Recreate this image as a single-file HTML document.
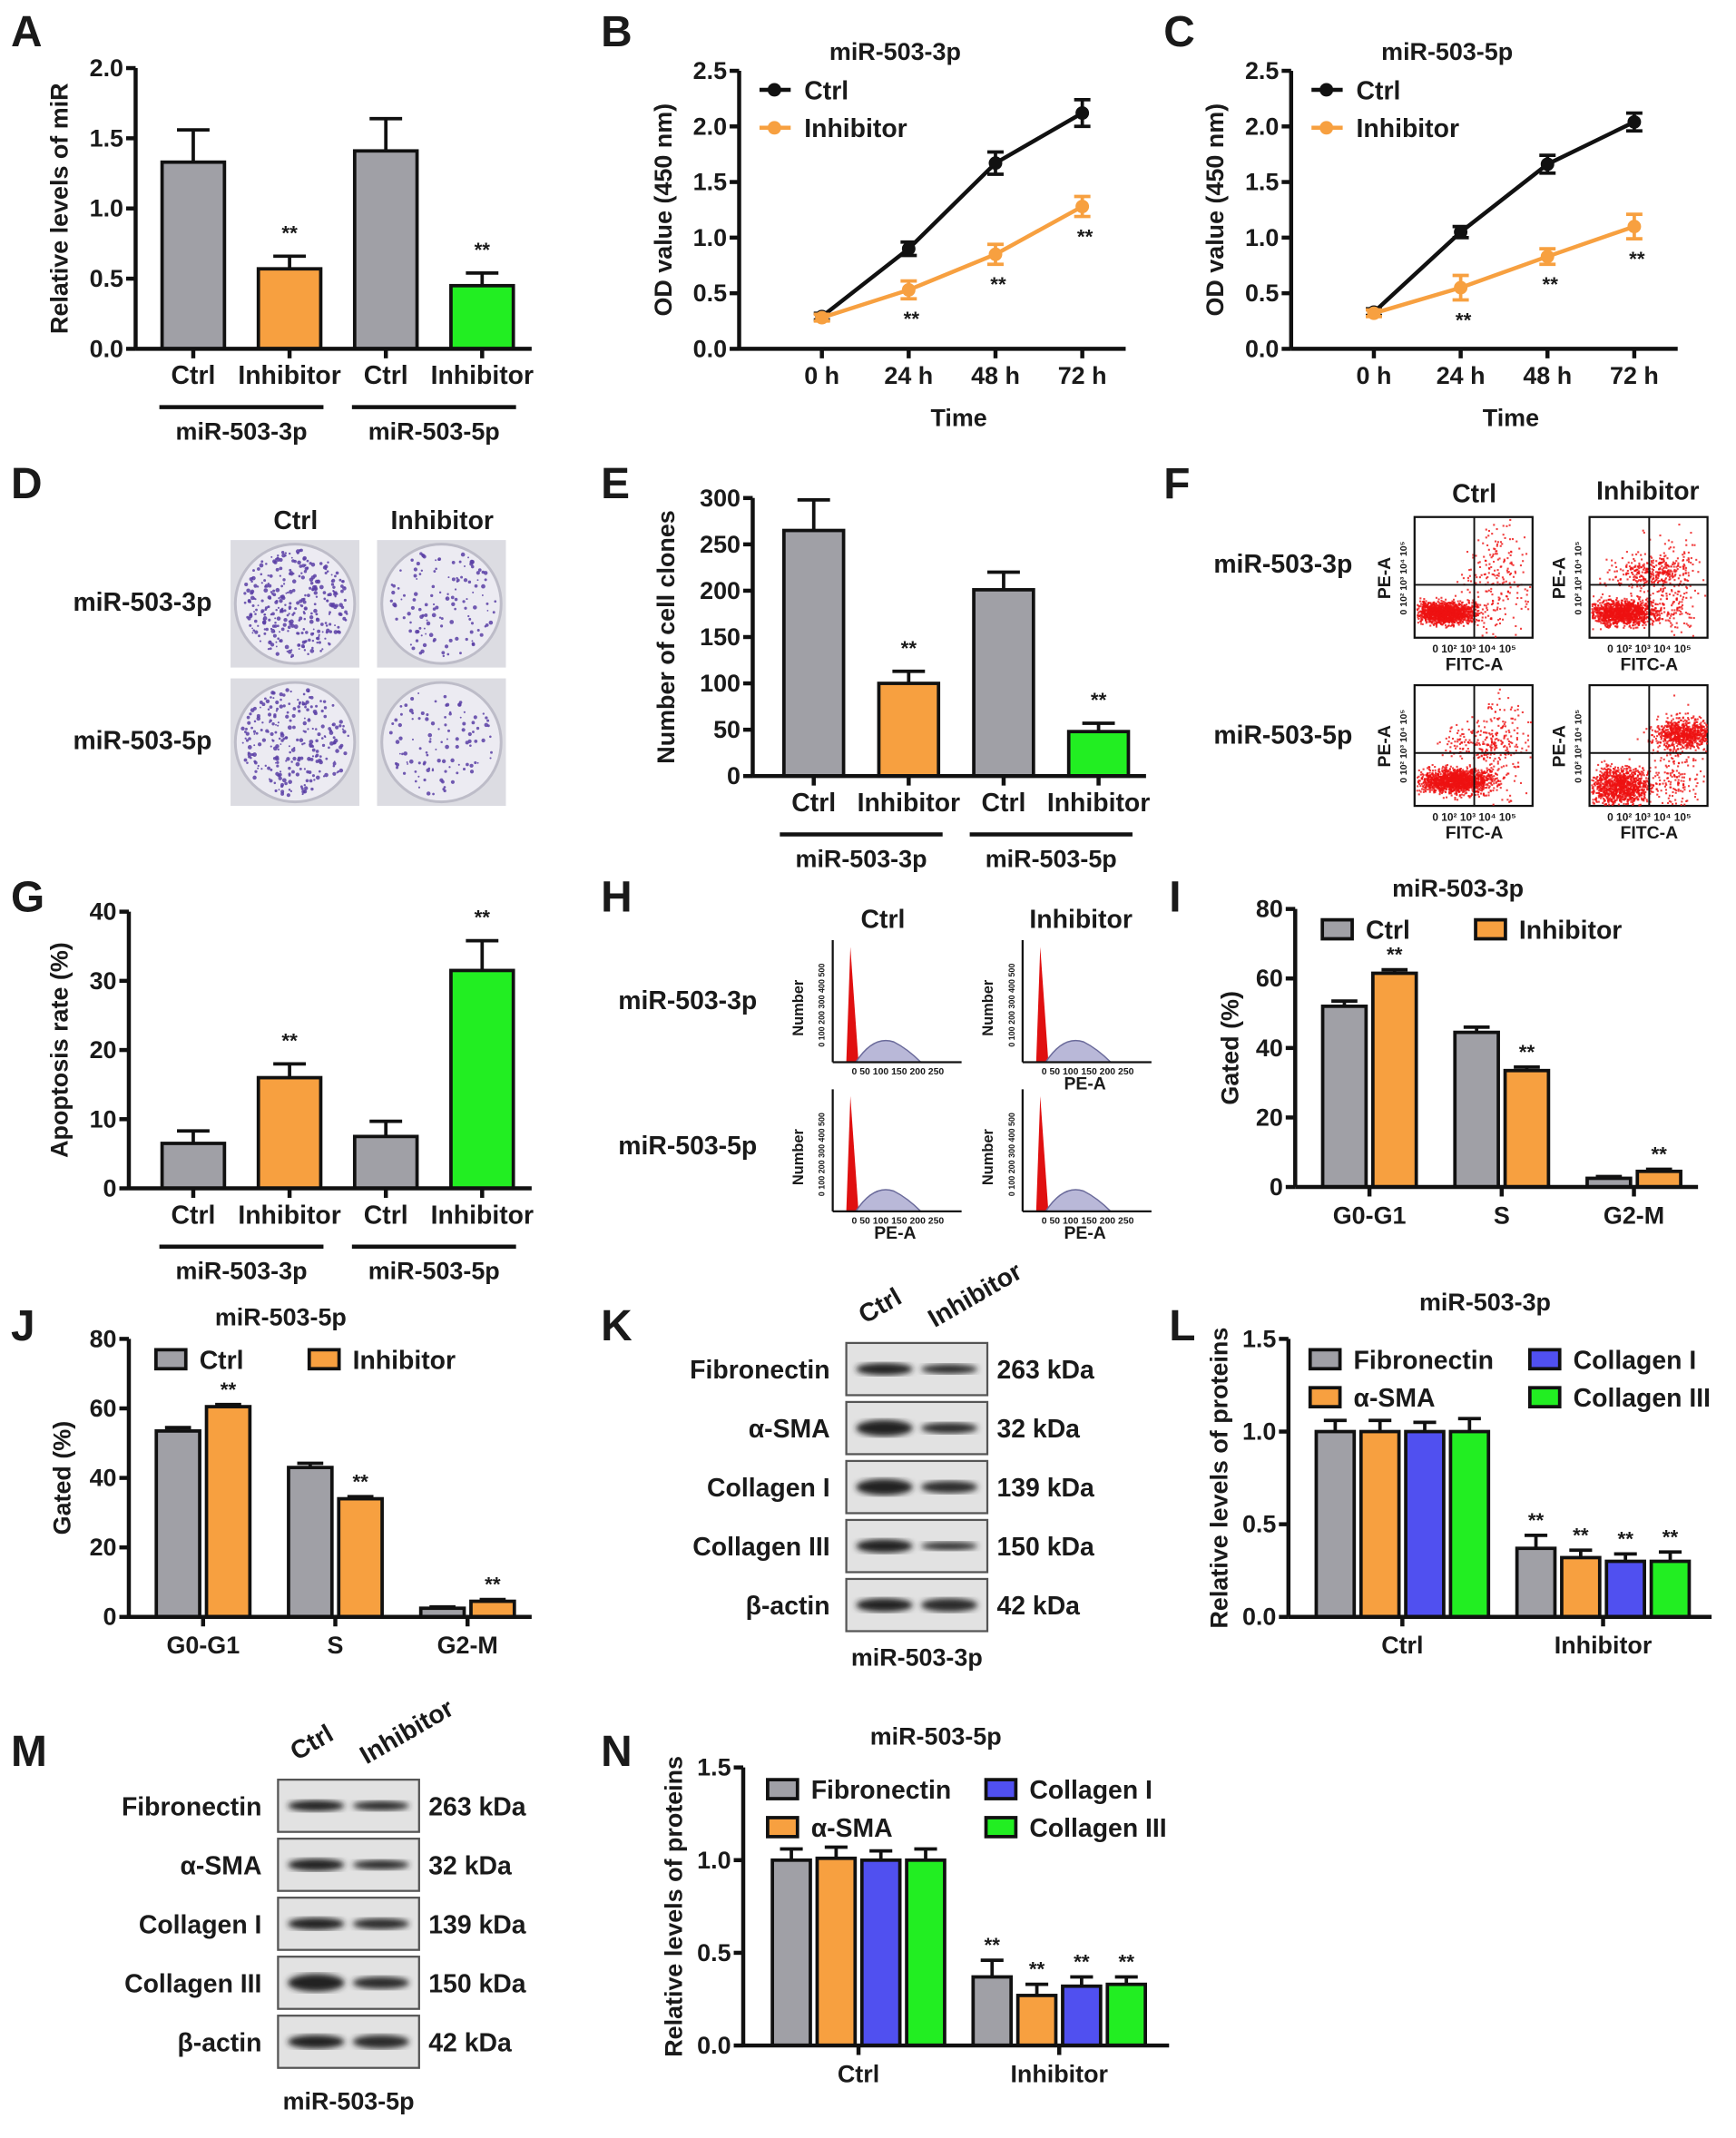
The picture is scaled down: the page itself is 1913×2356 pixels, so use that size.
<!DOCTYPE html>
<html><head><meta charset="utf-8">
<style>
html,body{margin:0;padding:0;background:#fff;}
svg{display:block;font-family:"Liberation Sans",Arial,sans-serif;}
text{font-weight:bold;fill:#1a1a1a;}
</style></head>
<body>
<svg id="fig" width="1913" height="2356" viewBox="0 0 1280 1576" xmlns="http://www.w3.org/2000/svg">
<defs>
<filter id="blur1"><feGaussianBlur stdDeviation="2.2"/></filter>
<filter id="blur0"><feGaussianBlur stdDeviation="0.6"/></filter>
</defs>
</svg>
<script>
// ---------- DATA ----------
const aCats=['Ctrl','Inhibitor','Ctrl','Inhibitor'];
const aVals=[1.33,0.57,1.41,0.45];
const aErrTop=[1.56,0.66,1.64,0.54];
const aTicks=[0,0.5,1.0,1.5,2.0];
const eVals=[265,100,201,48];
const eErrTop=[298,113,220,57];
const eTicks=[0,50,100,150,200,250,300];
const gVals=[6.5,16,7.5,31.5];
const gErrTop=[8.3,18,9.7,35.8];
const gTicks=[0,10,20,30,40];
const times=['0 h','24 h','48 h','72 h'];
const odTicks=[0,0.5,1.0,1.5,2.0,2.5];
const bCtrl=[0.29,0.90,1.67,2.12];
const bCtrlErr=[0.03,0.06,0.10,0.12];
const bInh=[0.28,0.53,0.85,1.28];
const bInhErr=[0.03,0.08,0.09,0.09];
const cCtrl=[0.33,1.05,1.66,2.04];
const cCtrlErr=[0.03,0.05,0.08,0.08];
const cInh=[0.32,0.55,0.83,1.10];
const cInhErr=[0.03,0.11,0.07,0.11];
const phases=['G0-G1','S','G2-M'];
const gateTicks=[0,20,40,60,80];
const iCtrl=[52,44.5,2.5];
const iCtrlErr=[1.5,1.5,0.5];
const iInh=[61.5,33.5,4.5];
const iInhErr=[1,1,0.6];
const jCtrl=[53.5,43,2.5];
const jCtrlErr=[1,1.2,0.4];
const jInh=[60.5,34,4.5];
const jInhErr=[0.6,0.6,0.5];
const groups=['Ctrl','Inhibitor'];
const proteins=['Fibronectin','α-SMA','Collagen I','Collagen III'];
const protTicks=[0,0.5,1.0,1.5];
const lCtrl=[1.0,1.0,1.0,1.0];
const lCtrlErr=[0.06,0.06,0.05,0.07];
const lInh=[0.37,0.32,0.30,0.30];
const lInhErr=[0.07,0.04,0.04,0.05];
const nCtrl=[1.0,1.01,1.0,1.0];
const nCtrlErr=[0.06,0.06,0.05,0.06];
const nInh=[0.37,0.27,0.32,0.33];
const nInhErr=[0.09,0.06,0.05,0.04];
const blotRows=['Fibronectin','α-SMA','Collagen I','Collagen III','β-actin'];
const blotKda=['263 kDa','32 kDa','139 kDa','150 kDa','42 kDa'];

// ---------- HELPERS ----------
const NS='http://www.w3.org/2000/svg';
const svg=document.getElementById('fig');
const GRAY='#a0a0a6',ORANGE='#f7a040',GREEN='#22ee22',BLUE='#5050f0';
function mk(tag,attrs,parent){const e=document.createElementNS(NS,tag);for(const k in attrs)e.setAttribute(k,attrs[k]);(parent||svg).appendChild(e);return e;}
function txt(s,x,y,size,parent,anchor,extra){const t=mk('text',Object.assign({x:x,y:y,'font-size':size,'text-anchor':anchor||'middle'},extra||{}),parent);t.textContent=s;return t;}
function grp(name){const g=mk('g',{});return g;}
function fmt(v,d){return d?v.toFixed(d):String(v);}
function yAxis(g,x,y0,yTop,ticks,dec,title,titleX){
  const max=ticks[ticks.length-1];
  const sc=v=>y0-(v/max)*(y0-yTop);
  const l=mk('line',{x1:x,y1:y0,x2:x,y2:yTop,stroke:'#111','stroke-width':3},g);
  
  ticks.forEach(t=>{mk('line',{x1:x-7,x2:x,y1:sc(t),y2:sc(t),stroke:'#111','stroke-width':3},g);
    const tl=txt(fmt(t,dec),x-9,sc(t)+6,18,g,'end');
    });
  const tt=txt(title,0,0,18,g,'middle',{transform:`translate(${titleX},${(y0+yTop)/2}) rotate(-90)`});
  
  return sc;
}
function xLine(g,x1,x2,y){const l=mk('line',{x1:x1,x2:x2,y1:y,y2:y,stroke:'#111','stroke-width':3},g);}
function errBar(g,cx,yTop,yBase,w){mk('line',{x1:cx,x2:cx,y1:yBase,y2:yTop,stroke:'#111','stroke-width':2.5},g);mk('line',{x1:cx-w,x2:cx+w,y1:yTop,y2:yTop,stroke:'#111','stroke-width':2.5},g);}
function stars(g,cx,y){const s=txt('**',cx,y,15,g);}
function letter(s,x,y){const t=txt(s,x,y,32,svg,'start');}

function simpleBars(name,ax,y0,yTop,ticks,dec,title,titleX,start,band,barW,vals,errs,colors,cats,starIdx,lblY,xEnd){
  const g=grp(name);
  const sc=yAxis(g,ax,y0,yTop,ticks,dec,title,titleX);
  vals.forEach((v,i)=>{
    const cx=start+(i+0.5)*band;
    errBar(g,cx,sc(errs[i]),sc(v),12);
    const r=mk('rect',{x:cx-barW/2,y:sc(v),width:barW,height:y0-sc(v),fill:colors[i],stroke:'#111','stroke-width':2.5},g);
    
    mk('line',{x1:cx,x2:cx,y1:y0,y2:y0+7,stroke:'#111','stroke-width':3},g);
    const cl=txt(cats[i],cx,lblY,19,g);
    if(starIdx.includes(i))stars(g,cx,sc(errs[i])-12);
  });
  xLine(g,ax,xEnd,y0);
  const c0=start+0.5*band,c1=start+1.5*band,c2=start+2.5*band,c3=start+3.5*band;
  mk('line',{x1:c0-25,x2:c1+25,y1:lblY+17,y2:lblY+17,stroke:'#111','stroke-width':3},g);
  mk('line',{x1:c2-25,x2:c3+25,y1:lblY+17,y2:lblY+17,stroke:'#111','stroke-width':3},g);
  const g1=txt('miR-503-3p',(c0+c1)/2,lblY+41,18,g);
  const g2=txt('miR-503-5p',(c2+c3)/2,lblY+41,18,g);
}

function lineChart(name,ax,y0,yTop,first,step,xEnd,title,ctrl,ctrlE,inh,inhE){
  const g=grp(name);
  const sc=yAxis(g,ax,y0,yTop,odTicks,1,'OD value (450 nm)',ax-50);
  xLine(g,ax,xEnd,y0);
  const xs=i=>first+i*step;
  times.forEach((t,i)=>{mk('line',{x1:xs(i),x2:xs(i),y1:y0,y2:y0+7,stroke:'#111','stroke-width':3},g);
    const tl=txt(t,xs(i),y0+26,18,g);});
  const xt=txt('Time',(first+xs(3))/2+5,y0+57,18,g);
  const tt=txt(title,ax+115,y0-213,18,g);
  const series=[[ctrl,ctrlE,'#111','ctrl'],[inh,inhE,ORANGE,'inhibitor']];
  series.forEach(([v,e,col,nm])=>{
    const p=mk('polyline',{points:v.map((d,i)=>xs(i)+','+sc(d)).join(' '),fill:'none',stroke:col,'stroke-width':3},g);
    
    v.forEach((d,i)=>{
      mk('line',{x1:xs(i),x2:xs(i),y1:sc(d-e[i]),y2:sc(d+e[i]),stroke:col,'stroke-width':2.5},g);
      mk('line',{x1:xs(i)-6,x2:xs(i)+6,y1:sc(d-e[i]),y2:sc(d-e[i]),stroke:col,'stroke-width':2.5},g);
      mk('line',{x1:xs(i)-6,x2:xs(i)+6,y1:sc(d+e[i]),y2:sc(d+e[i]),stroke:col,'stroke-width':2.5},g);
      const c=mk('circle',{cx:xs(i),cy:sc(d),r:5,fill:col},g);
      
    });
  });
  inh.forEach((d,i)=>{if(i>0)stars(g,xs(i)+2,sc(d-inhE[i])+20);});
  const lg=grp(name+'-legend');g.appendChild(lg);
  [['Ctrl','#111',yTop+14],['Inhibitor',ORANGE,yTop+42]].forEach(([s,c,y])=>{
    mk('line',{x1:ax+15,x2:ax+38,y1:y,y2:y,stroke:c,'stroke-width':3},lg);
    mk('circle',{cx:ax+26,cy:y,r:5,fill:c},lg);
    const e=txt(s,ax+48,y+7,19,lg,'start');
  });
}

function groupedBars(name,ax,y0,yTop,ticks,dec,title,titleX,start,band,barW,stepW,cats,series,colors,xEnd,chartTitle,titlePos){
  const g=grp(name);
  const sc=yAxis(g,ax,y0,yTop,ticks,dec,title,titleX);
  const n=series.length;
  cats.forEach((c,ci)=>{
    const cx=start+(ci+0.5)*band;
    const left=cx-(stepW*(n-1)+barW)/2;
    series.forEach(([vals,errs,starFlag],si)=>{
      const bx=left+si*stepW, bc=bx+barW/2, v=vals[ci];
      errBar(g,bc,sc(v+errs[ci]),sc(v),barW*0.3);
      const r=mk('rect',{x:bx,y:sc(v),width:barW,height:y0-sc(v),fill:colors[si],stroke:'#111','stroke-width':2.5},g);
      
      if(starFlag[ci])stars(g,bc,sc(v+errs[ci])-6);
    });
    mk('line',{x1:cx,x2:cx,y1:y0,y2:y0+7,stroke:'#111','stroke-width':3},g);
    const cl=txt(c,cx,y0+27,18,g);
  });
  xLine(g,ax,xEnd,y0);
  const t=txt(chartTitle,titlePos[0],titlePos[1],18,g);
  return g;
}
function legendBox(g,x,y,col,label){
  const r=mk('rect',{x:x,y:y-12,width:22,height:14,fill:col,stroke:'#111','stroke-width':2.5},g);
  
  const t=txt(label,x+32,y+2,19,g,'start');
}

let seed=12345;function rnd(){seed=(seed*16807)%2147483647;return (seed-1)/2147483646;}
function gauss(){return (rnd()+rnd()+rnd()+rnd()-2)/1.15;}

// ---------- PANELS ----------
letter('A',8,34);letter('B',443,34);letter('C',858,34);
letter('D',8,367);letter('E',443,367);letter('F',858,367);
letter('G',8,672);letter('H',443,672);letter('I',862,672);
letter('J',8,988);letter('K',443,988);letter('L',862,988);
letter('M',8,1302);letter('N',443,1302);

simpleBars('panel-a-chart',100,257,50,aTicks,1,'Relative levels of miR',50,107,71,46,aVals,aErrTop,[GRAY,ORANGE,GRAY,GREEN],aCats,[1,3],283,392);
lineChart('panel-b-chart',545,257,52,606,64,830,'miR-503-3p',bCtrl,bCtrlErr,bInh,bInhErr);
lineChart('panel-c-chart',952,257,52,1013,64,1237,'miR-503-5p',cCtrl,cCtrlErr,cInh,cInhErr);
simpleBars('panel-e-chart',555,572,367,eTicks,0,'Number of cell clones',497,565,70,44,eVals,eErrTop,[GRAY,ORANGE,GRAY,GREEN],aCats,[1,3],598,845);
simpleBars('panel-g-chart',95,876,672,gTicks,0,'Apoptosis rate (%)',50,107,71,46,gVals,gErrTop,[GRAY,ORANGE,GRAY,GREEN],aCats,[1,3],902,392);

const gi=groupedBars('panel-i-chart',955,875,670,gateTicks,0,'Gated (%)',913,961,97.5,32,37,phases,[[iCtrl,iCtrlErr,[0,0,0]],[iInh,iInhErr,[1,1,1]]],[GRAY,ORANGE],1252,'miR-503-3p',[1075,661]);
legendBox(gi,975,690,GRAY,'Ctrl');legendBox(gi,1088,690,ORANGE,'Inhibitor');
const gj=groupedBars('panel-j-chart',95,1192,987,gateTicks,0,'Gated (%)',52,101,97.5,32,37,phases,[[jCtrl,jCtrlErr,[0,0,0]],[jInh,jInhErr,[1,1,1]]],[GRAY,ORANGE],392,'miR-503-5p',[207,977]);
legendBox(gj,115,1007,GRAY,'Ctrl');legendBox(gj,228,1007,ORANGE,'Inhibitor');

const PCOL=[GRAY,ORANGE,BLUE,GREEN];
const lSeries=proteins.map((p,k)=>[[lCtrl[k],lInh[k]],[lCtrlErr[k],lInhErr[k]],[0,1]]);
const gl=groupedBars('panel-l-chart',950,1192,987,protTicks,1,'Relative levels of proteins',905,960,148,28,33,groups,lSeries,PCOL,1262,'miR-503-3p',[1095,966]);
legendBox(gl,966,1007,GRAY,'Fibronectin');legendBox(gl,966,1035,ORANGE,'α-SMA');
legendBox(gl,1128,1007,BLUE,'Collagen I');legendBox(gl,1128,1035,GREEN,'Collagen III');
const nSeries=proteins.map((p,k)=>[[nCtrl[k],nInh[k]],[nCtrlErr[k],nInhErr[k]],[0,1]]);
const gn=groupedBars('panel-n-chart',548,1508,1303,protTicks,1,'Relative levels of proteins',503,559,148,28,33,groups,nSeries,PCOL,862,'miR-503-5p',[690,1286]);
legendBox(gn,566,1324,GRAY,'Fibronectin');legendBox(gn,566,1352,ORANGE,'α-SMA');
legendBox(gn,727,1324,BLUE,'Collagen I');legendBox(gn,727,1352,GREEN,'Collagen III');

// ---------- D: colony plates ----------
(function(){
  const g=grp('panel-d-plates');
  txt('Ctrl',218,390,19,g);txt('Inhibitor',326,390,19,g);
  txt('miR-503-3p',105,450,19,g);txt('miR-503-5p',105,552,19,g);
  const plates=[[170,398,330],[278,398,130],[170,500,260],[278,500,110]];
  plates.forEach(([x,y,n],pi)=>{
    const p=mk('g',{},g);
    mk('rect',{x:x,y:y,width:95,height:94,fill:'#dcdce2'},p);
    mk('circle',{cx:x+47.5,cy:y+47,r:44,fill:'#ecebf2',stroke:'#bdbcc8','stroke-width':2},p);
    for(let k=0;k<n;k++){const a=rnd()*6.283,r=Math.sqrt(rnd())*40;
      mk('circle',{cx:x+47.5+r*Math.cos(a),cy:y+47+r*Math.sin(a),r:0.6+rnd()*1.0,fill:'#5a3fa6',opacity:0.85},p);}
  });
})();

// ---------- F: flow plots ----------
(function(){
  const g=grp('panel-f-flow');
  txt('Ctrl',1087,370,19,g);txt('Inhibitor',1215,368,19,g);
  txt('miR-503-3p',946,422,19,g);txt('miR-503-5p',946,548,19,g);
  const plots=[[1043,381,[[22,70,22,8,1400],[60,45,22,40,220]]],
               [1172,381,[[24,70,24,9,1300],[45,40,30,12,300],[62,55,18,40,200]]],
               [1043,505,[[30,70,26,9,1500],[45,42,25,14,150],[65,45,18,40,150]]],
               [1172,505,[[22,74,22,14,1100],[70,35,22,10,700],[65,60,20,40,250]]]];
  plots.forEach(([x,y,blobs])=>{
    const p=mk('g',{},g);
    mk('rect',{x:x,y:y,width:87,height:89,fill:'#fff',stroke:'#111','stroke-width':1.5},p);
    blobs.forEach(([mx,my,sx,sy,n])=>{for(let k=0;k<n;k++){
      const px=x+mx+gauss()*sx, py=y+my+gauss()*sy;
      if(px>x+1&&px<x+86&&py>y+1&&py<y+88)mk('rect',{x:px,y:py,width:1.4,height:1.4,fill:'#ee1111',opacity:0.8},p);}});
    mk('line',{x1:x+44,x2:x+44,y1:y,y2:y+89,stroke:'#111','stroke-width':1.3},p);
    mk('line',{x1:x,x2:x+87,y1:y+50,y2:y+50,stroke:'#111','stroke-width':1.3},p);
    txt('0 10²  10³  10⁴  10⁵',x+44,y+100,8,p,'middle',{'font-weight':'normal'});
    txt('FITC-A',x+44,y+113,13,p);
    txt('PE-A',0,0,13,p,'middle',{transform:`translate(${x-18},${y+45}) rotate(-90)`});
    txt('0 10² 10³ 10⁴ 10⁵',0,0,7,p,'middle',{transform:`translate(${x-6},${y+45}) rotate(-90)`,'font-weight':'normal'});
  });
})();

// ---------- H: cell cycle histograms ----------
(function(){
  const g=grp('panel-h-histograms');
  txt('Ctrl',651,684,19,g);txt('Inhibitor',797,684,19,g);
  txt('miR-503-3p',507,744,19,g);txt('miR-503-5p',507,851,19,g);
  const plots=[[614,693],[754,693],[614,803],[754,803]];
  plots.forEach(([x,y])=>{
    const p=mk('g',{},g);
    const w=95,h=90;
    mk('path',{d:`M${x+10},${y+h} L${x+13},${y+5} L${x+19},${y+h} Z`,fill:'#e01010'},p);
    mk('path',{d:`M${x+17},${y+h} Q${x+30},${y+h-20} ${x+45},${y+h-15} Q${x+55},${y+h-10} ${x+65},${y+h} Z`,fill:'#b9b8d8',stroke:'#6a6a9a','stroke-width':1},p);
    mk('line',{x1:x,x2:x,y1:y,y2:y+h,stroke:'#111','stroke-width':1.5},p);
    mk('line',{x1:x,x2:x+w,y1:y+h,y2:y+h,stroke:'#111','stroke-width':1.5},p);
    txt('0 50 100 150 200 250',x+48,y+h+9,7,p,'middle',{'font-weight':'normal'});
    txt('Number',0,0,11,p,'middle',{transform:`translate(${x-22},${y+50}) rotate(-90)`,'font-weight':'normal'});
    txt('0 100 200 300 400 500',0,0,6,p,'middle',{transform:`translate(${x-6},${y+48}) rotate(-90)`,'font-weight':'normal'});
    if(x>700||y>750)txt('PE-A',x+46,y+h+20,13,p,'middle',{'font-weight':'normal'});
  });
})();

// ---------- K / M: western blots ----------
function blots(name,x,yStart,rowH,w,lblY,title,intens){
  const g=grp(name);
  txt('Ctrl',0,0,19,g,'middle',{transform:`translate(${x+28},${yStart-22}) rotate(-30)`});
  txt('Inhibitor',0,0,19,g,'middle',{transform:`translate(${x+98},${yStart-30}) rotate(-30)`});
  blotRows.forEach((r,i)=>{
    const y=yStart+i*rowH;
    const b=mk('g',{},g);
    mk('rect',{x:x,y:y,width:w,height:rowH-5,fill:'#e2e2e2',stroke:'#555','stroke-width':1.5},b);
    const cy=y+(rowH-5)/2;
    mk('ellipse',{cx:x+w*0.27,cy:cy,rx:w*0.2,ry:5*intens[i][0],fill:'#222',filter:'url(#blur1)'},b);
    mk('ellipse',{cx:x+w*0.73,cy:cy,rx:w*0.2,ry:5*intens[i][1],fill:'#2a2a2a',filter:'url(#blur1)'},b);
    const l=txt(r,x-12,cy+7,19,g,'end');
    const k=txt(blotKda[i],x+w+7,cy+7,19,g,'start');
  });
  txt(title,x+w/2,lblY,18,g);
}
blots('panel-k-blots',624,990,43.5,104,1228,'miR-503-3p',[[0.9,0.7],[1.2,0.8],[1.2,0.9],[1.0,0.6],[1.0,1.0]]);
blots('panel-m-blots',205,1312,43.5,104,1555,'miR-503-5p',[[0.8,0.7],[0.9,0.7],[0.9,0.8],[1.3,0.9],[1.0,1.0]]);
</script>
</body></html>
